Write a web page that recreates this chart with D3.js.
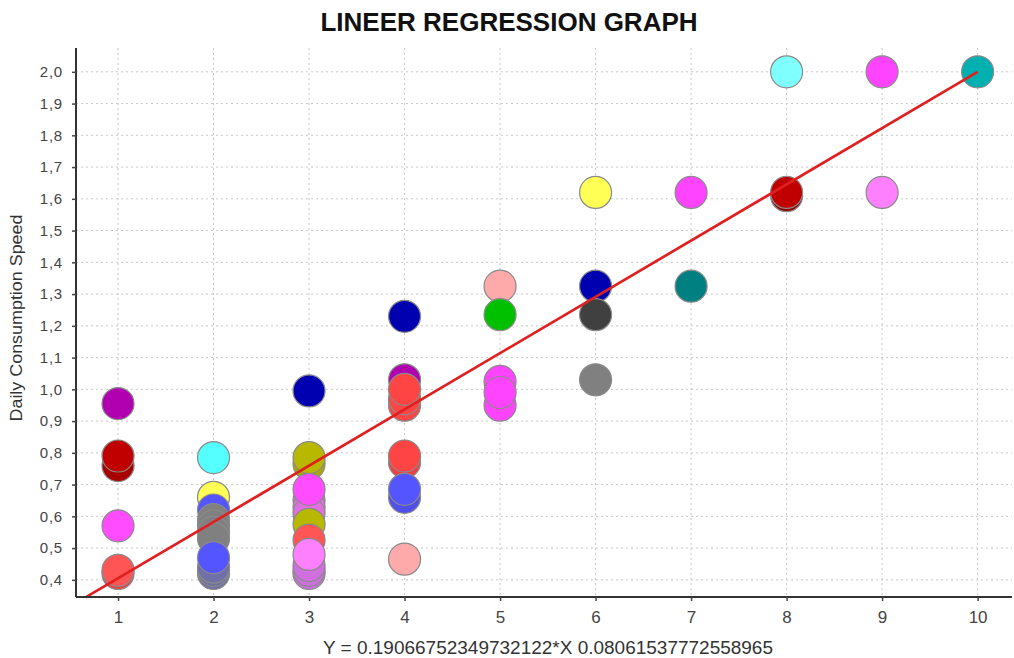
<!DOCTYPE html>
<html>
<head>
<meta charset="utf-8">
<script src="https://cdn.jsdelivr.net/npm/d3@7"></script>
<style>
  body { margin: 0; background: #fff; }
  text { font-family: "Liberation Sans", Arial, sans-serif; }
</style>
</head>
<body>
<div id="container"></div>
<script>
var w = 1014;
var h = 658;

// data
var pointX = [1,1,1,1,1,1,
  2,2,2,2,2,2,2,2,2,2,2,
  3,3,3,3,3,3,3,3,3,3,3,3,3,
  4,4,4,4,4,4,4,4,4,4,
  5,5,5,5,5,
  6,6,6,6,
  7,7,
  8,8,8,
  9,9,
  10];
var pointY = [0.955,0.76,0.79,0.57,0.42,0.43,
  0.785,0.66,0.62,0.59,0.57,0.55,0.53,0.42,0.43,0.44,0.47,
  0.995,0.765,0.785,0.65,0.63,0.61,0.685,0.575,0.525,0.42,0.43,0.445,0.48,
  1.23,1.03,0.95,0.97,1.0,0.77,0.79,0.66,0.685,0.465,
  1.325,1.235,0.95,1.025,0.99,
  1.62,1.325,1.235,1.03,
  1.62,1.325,
  2.0,1.61,1.62,
  2.0,1.62,
  2.0];
var pointColor = ["#b000b0","#a80000","#c00000","#ff4cff","#e04848","#ff5555",
  "#55ffff","#ffff55","#5555ff","#808080","#808080","#808080","#808080","#6f6fa0","#6f6fa0","#7070a8","#5555ff",
  "#0000b0","#a8a800","#b8b800","#e070e0","#e070e0","#e070e0","#ff4cff","#b8b800","#ff5555","#c870d8","#cc70dd","#d070e0","#ff80ff",
  "#0000b0","#b000b0","#ff4444","#ff4444","#ff4444","#ee4040","#ff4444","#5050e8","#5555ff","#ffaaaa",
  "#ffaaaa","#00c000","#ff44ff","#ff44ff","#ff44ff",
  "#ffff55","#0000b0","#404040","#808080",
  "#ff44ff","#008080",
  "#80ffff","#900000","#c00000",
  "#ff44ff","#ff80ff",
  "#00b0b0"];

var xTicks = [1,2,3,4,5,6,7,8,9,10];
var yTicks = [0.4,0.5,0.6,0.7,0.8,0.9,1.0,1.1,1.2,1.3,1.4,1.5,1.6,1.7,1.8,1.9,2.0];

// fitted line as drawn
var lineSlope = 0.1772;
var lineIntercept = 0.228;
var lineX = [0.66, 10];

var titleText = "LINEER REGRESSION GRAPH";
var xLabel = "Y = 0.19066752349732122*X 0.08061537772558965";
var yLabel = "Daily Consumption Speed";

var pLeft = 76, pRight = 1012, pTop = 48, pBottom = 597;

var x = d3.scaleLinear().domain([0.56, 10.36]).range([pLeft, pRight]);
var y = d3.scaleLinear().domain([0.346, 2.075]).range([pBottom, pTop]);

var svg = d3.select("div#container")
    .append("svg")
    .attr("width", w)
    .attr("height", h)
    .style("background-color", "#fff");

// grid
svg.append("g")
    .selectAll("line")
    .data(xTicks)
    .enter()
    .append("line")
    .attr("x1", d => x(d)).attr("x2", d => x(d))
    .attr("y1", pTop).attr("y2", pBottom)
    .attr("stroke", "#c8c8c8")
    .attr("stroke-dasharray", "2,3");

svg.append("g")
    .selectAll("line")
    .data(yTicks)
    .enter()
    .append("line")
    .attr("x1", pLeft).attr("x2", pRight)
    .attr("y1", d => y(d)).attr("y2", d => y(d))
    .attr("stroke", "#c8c8c8")
    .attr("stroke-dasharray", "2,3");

// points
svg.append("g")
    .selectAll("circle")
    .data(pointX)
    .enter()
    .append("circle")
    .attr("cx", d => x(d))
    .attr("cy", (d, i) => y(pointY[i]))
    .attr("r", 16)
    .attr("fill", (d, i) => pointColor[i])
    .attr("stroke", "#8a8a8a")
    .attr("stroke-width", 1.2);

// regression line
svg.append("line")
    .attr("x1", x(lineX[0]))
    .attr("y1", y(lineSlope * lineX[0] + lineIntercept))
    .attr("x2", x(lineX[1]))
    .attr("y2", y(lineSlope * lineX[1] + lineIntercept))
    .attr("stroke", "#e02020")
    .attr("stroke-width", 2.7);

// axes
var fmt = d => d3.format(".1f")(d).replace(".", ",");

var xAxis = svg.append("g")
    .attr("transform", "translate(0," + pBottom + ")")
    .call(d3.axisBottom(x).tickValues(xTicks).tickSize(4).tickPadding(10));

var yAxis = svg.append("g")
    .attr("transform", "translate(" + pLeft + ",0)")
    .call(d3.axisLeft(y).tickValues(yTicks).tickFormat(fmt).tickSize(4).tickPadding(9));

[xAxis, yAxis].forEach(function(a) {
  a.select(".domain").attr("stroke", "#333").attr("stroke-width", 2);
  a.selectAll(".tick line").attr("stroke", "#444").attr("stroke-width", 1.5);
  a.selectAll(".tick text").attr("fill", "#444")
    .style("font-family", "'Liberation Sans', Arial, sans-serif");
});
xAxis.selectAll(".tick text").style("font-size", "17px");
yAxis.selectAll(".tick text").style("font-size", "15px").style("letter-spacing", "0.8px");
xAxis.select(".domain").attr("d", "M" + pLeft + ",0H" + pRight);
yAxis.select(".domain").attr("d", "M0," + pTop + "V" + pBottom);

// texts
svg.append("text")
    .attr("x", 509).attr("y", 31)
    .attr("text-anchor", "middle")
    .style("font-size", "26px")
    .style("font-weight", "bold")
    .attr("fill", "#111")
    .text(titleText);

svg.append("text")
    .attr("x", 548).attr("y", 654)
    .attr("text-anchor", "middle")
    .attr("textLength", 450)
    .attr("lengthAdjust", "spacingAndGlyphs")
    .style("font-size", "18px")
    .attr("fill", "#333")
    .text(xLabel);

svg.append("text")
    .attr("transform", "translate(22,318) rotate(-90)")
    .attr("text-anchor", "middle")
    .attr("textLength", 207)
    .attr("lengthAdjust", "spacingAndGlyphs")
    .style("font-size", "16px")
    .attr("fill", "#333")
    .text(yLabel);
</script>
</body>
</html>
